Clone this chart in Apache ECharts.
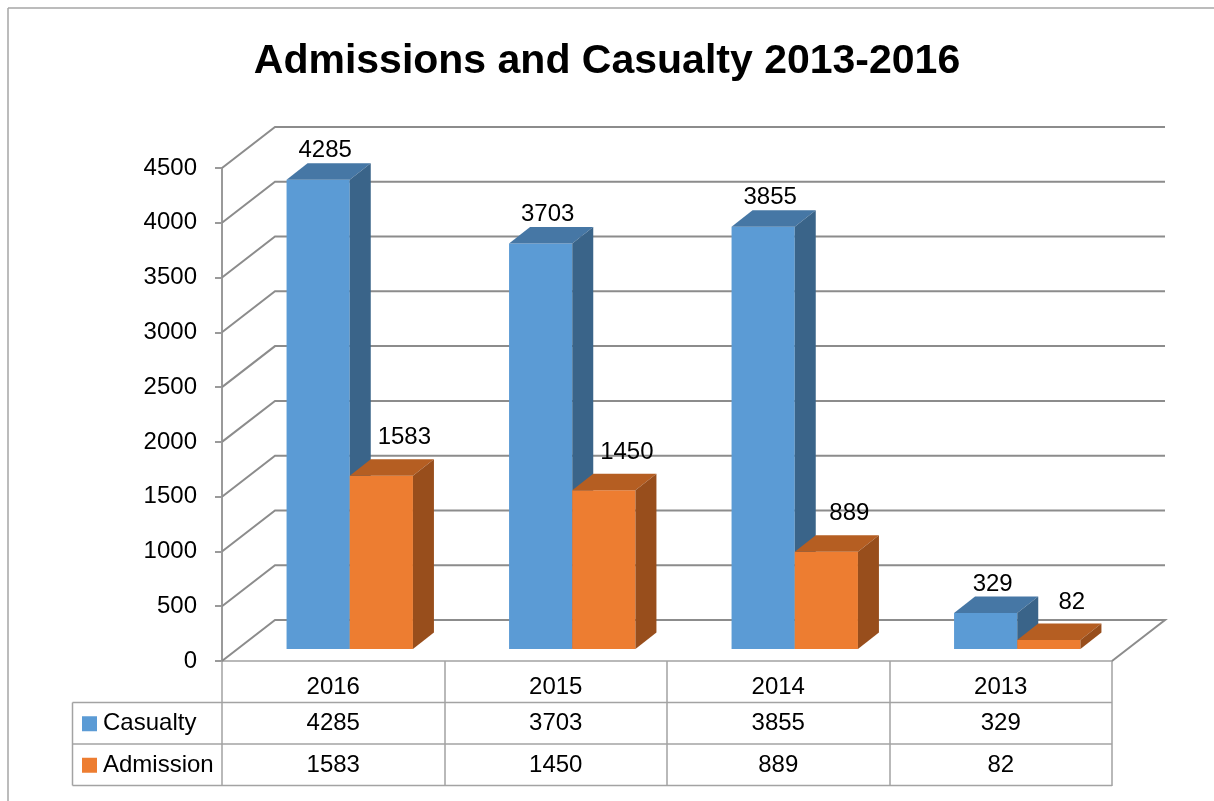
<!DOCTYPE html>
<html>
<head>
<meta charset="utf-8">
<title>Admissions and Casualty 2013-2016</title>
<script src="https://cdn.jsdelivr.net/npm/echarts@6/dist/echarts.min.js"></script>
<style>
  html, body { margin: 0; padding: 0; background: #fff; }
  #chart { width: 1214px; height: 801px; }
</style>
</head>
<body>
<div id="chart"></div>
<script>
// chart data
const years = ["2016", "2015", "2014", "2013"];
const casualty = [4285, 3703, 3855, 329];
const admission = [1583, 1450, 889, 82];
const yTicks = [0, 500, 1000, 1500, 2000, 2500, 3000, 3500, 4000, 4500];
const seriesNames = ["Casualty", "Admission"];

const FONT = "Liberation Sans";
const TXT = "24px '" + FONT + "'";
const GRID_COLOR = "#8c8c8c";
const TABLE_COLOR = "#a3a3a3";
// oblique depth of the back wall and of the bars (pixels)
const WALL_DX = 53, WALL_DY = -41;
const BAR_OFF_X = 16.5, BAR_OFF_Y = -11.9;
const BAR_DX = 21, BAR_DY = -16.5;

const colors = {
  Casualty: { front: "#5b9bd5", top: "#4677a5", side: "#3a6489" },
  Admission: { front: "#ed7d31", top: "#b55e22", side: "#984e1c" }
};

const myChart = echarts.init(document.getElementById("chart"));

function renderWall(params, api) {
  const v = api.value(1);
  const bw = api.size([1, 0])[0];
  const p = api.coord([0, v]);
  const xl = p[0] - bw / 2;
  const xr = api.coord([years.length - 1, v])[0] + bw / 2;
  const y = p[1];
  const pts = [[xl, y], [xl + WALL_DX, y + WALL_DY], [xr + WALL_DX, y + WALL_DY]];
  if (v === 0) pts.push([xr, y]);
  return {
    type: "polyline",
    shape: { points: pts },
    style: { stroke: GRID_COLOR, lineWidth: 2, fill: null }
  };
}

function barRenderer(slot, c, labelDx, labelDy) {
  return function (params, api) {
    const i = api.value(0);
    const v = api.value(1);
    const bw = api.size([1, 0])[0];
    const w = bw * 0.284;
    const base = api.coord([i, 0]);
    const yt = api.coord([i, v])[1] + BAR_OFF_Y;
    const yb = base[1] + BAR_OFF_Y;
    const x0 = base[0] - w + slot * w + BAR_OFF_X;
    const x1 = x0 + w;
    return {
      type: "group",
      children: [
        {
          type: "rect",
          shape: { x: x0, y: yt, width: w, height: yb - yt },
          style: { fill: c.front }
        },
        {
          type: "polygon",
          shape: { points: [[x0, yt], [x1, yt], [x1 + BAR_DX, yt + BAR_DY], [x0 + BAR_DX, yt + BAR_DY]] },
          style: { fill: c.top }
        },
        {
          type: "polygon",
          shape: { points: [[x1, yt], [x1 + BAR_DX, yt + BAR_DY], [x1 + BAR_DX, yb + BAR_DY], [x1, yb]] },
          style: { fill: c.side }
        },
        {
          type: "text",
          x: x0 + w / 2 + labelDx,
          y: yt + labelDy,
          style: { text: String(v), fill: "#000", font: TXT, align: "center", verticalAlign: "middle" }
        }
      ]
    };
  };
}

// data table under the plot
const tableLeft = 72.5, plotLeft = 222, plotRight = 1112;
const rowLines = [702.5, 744, 785.5];
const tableRows = [
  { name: seriesNames[0], values: casualty, color: colors.Casualty.front },
  { name: seriesNames[1], values: admission, color: colors.Admission.front }
];
const graphics = [
  { type: "line", shape: { x1: 8, y1: 8, x2: 1214, y2: 8 }, style: { stroke: "#a6a6a6", lineWidth: 1.5 } },
  { type: "line", shape: { x1: 8, y1: 8, x2: 8, y2: 801 }, style: { stroke: "#a6a6a6", lineWidth: 1.5 } },
  { type: "line", shape: { x1: tableLeft, y1: rowLines[0], x2: tableLeft, y2: rowLines[2] }, style: { stroke: TABLE_COLOR, lineWidth: 1.5 } }
];
rowLines.forEach(y => {
  graphics.push({ type: "line", shape: { x1: tableLeft, y1: y, x2: plotRight, y2: y }, style: { stroke: TABLE_COLOR, lineWidth: 1.5 } });
});
const colW = (plotRight - plotLeft) / years.length;
tableRows.forEach((row, k) => {
  const yc = (rowLines[k] + rowLines[k + 1]) / 2 + 0.5;
  graphics.push({ type: "rect", shape: { x: 82, y: yc - 7.5, width: 15, height: 15 }, style: { fill: row.color } });
  graphics.push({
    type: "text", x: 103, y: yc,
    style: { text: row.name, fill: "#000", font: TXT, align: "left", verticalAlign: "middle" }
  });
  row.values.forEach((v, i) => {
    graphics.push({
      type: "text", x: plotLeft + colW * (i + 0.5), y: yc,
      style: { text: String(v), fill: "#000", font: TXT, align: "center", verticalAlign: "middle" }
    });
  });
});

let option = {
  backgroundColor: "#fff",
  animation: false,
  title: {
    text: "Admissions and Casualty 2013-2016",
    left: "center",
    top: 36,
    textStyle: { fontFamily: FONT, fontSize: 41, fontWeight: "bold", color: "#000" }
  },
  grid: { left: plotLeft, right: 1214 - plotRight, top: 168, bottom: 140 },
  xAxis: {
    type: "category",
    data: years,
    axisLine: { show: true, lineStyle: { color: TABLE_COLOR, width: 1.5 } },
    axisTick: { show: true, interval: 0, length: 125, lineStyle: { color: TABLE_COLOR, width: 1.5 } },
    axisLabel: { fontFamily: FONT, fontSize: 24, color: "#000", margin: 26, verticalAlign: "middle" },
    splitLine: { show: false }
  },
  yAxis: {
    type: "value",
    min: 0,
    max: 4500,
    interval: 500,
    axisLine: { show: true, lineStyle: { color: "#9a9a9a", width: 2 } },
    axisTick: { show: true, length: 7, lineStyle: { color: "#9a9a9a", width: 2 } },
    axisLabel: { fontFamily: FONT, fontSize: 24, color: "#000", margin: 25, formatter: v => String(v) },
    splitLine: { show: false }
  },
  series: [
    {
      name: "wall",
      type: "custom",
      silent: true,
      renderItem: renderWall,
      encode: { x: 0, y: 1 },
      data: yTicks.map(v => [0, v]),
      z: 1
    },
    {
      name: seriesNames[0],
      type: "custom",
      renderItem: barRenderer(0, colors.Casualty, 7, -29),
      encode: { x: 0, y: 1 },
      data: casualty.map((v, i) => [i, v]),
      z: 2
    },
    {
      name: seriesNames[1],
      type: "custom",
      renderItem: barRenderer(1, colors.Admission, 23, -38),
      encode: { x: 0, y: 1 },
      data: admission.map((v, i) => [i, v]),
      z: 3
    }
  ],
  graphic: graphics
};

myChart.setOption(option);
</script>
</body>
</html>
